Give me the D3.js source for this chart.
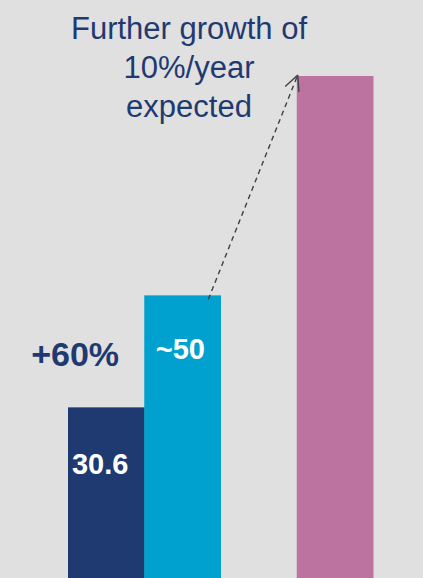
<!DOCTYPE html>
<html>
<head>
<meta charset="utf-8">
<script src="https://cdn.jsdelivr.net/npm/d3@7"></script>
<style>
  html, body { margin: 0; padding: 0; background: #e0e0e0; overflow: hidden; }
  text { font-family: "Liberation Sans", Arial, sans-serif; }
</style>
</head>
<body>
<script>
const width = 423;
const height = 578;

// slots along the axis; "gap" is an empty slot between today and the outlook
const categories = ["before", "today", "gap", "outlook"];
const values = [30.6, 50, null, 88];
const valueLabels = ["30.6", "~50", "", ""];
const barColors = ["#1f3a70", "#00a1cf", "none", "#bc739f"];
const growthLabel = "+60%";
const noteLines = ["Further growth of", "10%/year", "expected"];

const svg = d3.select("body").append("svg")
    .attr("width", width)
    .attr("height", height);

svg.append("rect")
    .attr("width", width)
    .attr("height", height)
    .attr("fill", "#e0e0e0");

const x = d3.scaleBand()
    .domain(categories)
    .range([68, 373])
    .padding(0);

const y = d3.scaleLinear()
    .domain([0, 88])
    .range([584, 76]);

const bw = x.bandwidth();

const bars = categories.map((c, i) => ({ c, v: values[i], color: barColors[i], label: valueLabels[i] }))
    .filter(d => d.v != null);

svg.selectAll(".bar")
    .data(bars)
    .enter()
    .append("rect")
    .attr("class", "bar")
    .attr("x", d => x(d.c))
    .attr("y", d => y(d.v))
    .attr("width", bw + 0.5)
    .attr("height", d => y(0) - y(d.v))
    .attr("fill", d => d.color);

// value labels inside the bars
svg.selectAll(".val")
    .data(bars.filter(d => d.label))
    .enter()
    .append("text")
    .attr("class", "val")
    .attr("x", d => x(d.c) + bw / 2 - (d.c === "before" ? 6 : 2))
    .attr("y", d => d.c === "before" ? y(d.v) + 67 : y(d.v) + 64)
    .attr("text-anchor", "middle")
    .attr("fill", "#ffffff")
    .attr("font-weight", "bold")
    .attr("font-size", 29)
    .text(d => d.label);

// growth label left of the second bar
svg.append("text")
    .attr("x", x("before") + bw / 2 - 31)
    .attr("y", 366)
    .attr("text-anchor", "middle")
    .attr("fill", "#1f3a70")
    .attr("font-weight", "bold")
    .attr("font-size", 34)
    .text(growthLabel);

// note text
svg.append("g")
    .selectAll("text")
    .data(noteLines)
    .enter()
    .append("text")
    .attr("x", 189)
    .attr("y", (d, i) => 39 + i * 39)
    .attr("text-anchor", "middle")
    .attr("fill", "#1f3a70")
    .attr("font-size", 31)
    .text(d => d);

// dashed arrow from today's bar to the outlook bar
const x0 = x("today") + bw * 0.84, y0 = y(50) + 4;
const x1 = x("outlook") + 1, y1 = y(88) - 1;

svg.append("line")
    .attr("x1", x0).attr("y1", y0)
    .attr("x2", x1).attr("y2", y1)
    .attr("stroke", "#404040")
    .attr("stroke-width", 1.4)
    .attr("stroke-dasharray", "5 4");

const ang = Math.atan2(y1 - y0, x1 - x0);
const headLen = 17;
[-0.45, 0.45].forEach(a => {
    svg.append("line")
        .attr("x1", x1).attr("y1", y1)
        .attr("x2", x1 - headLen * Math.cos(ang + a))
        .attr("y2", y1 - headLen * Math.sin(ang + a))
        .attr("stroke", "#404040")
        .attr("stroke-width", 1.4);
});
</script>
</body>
</html>
